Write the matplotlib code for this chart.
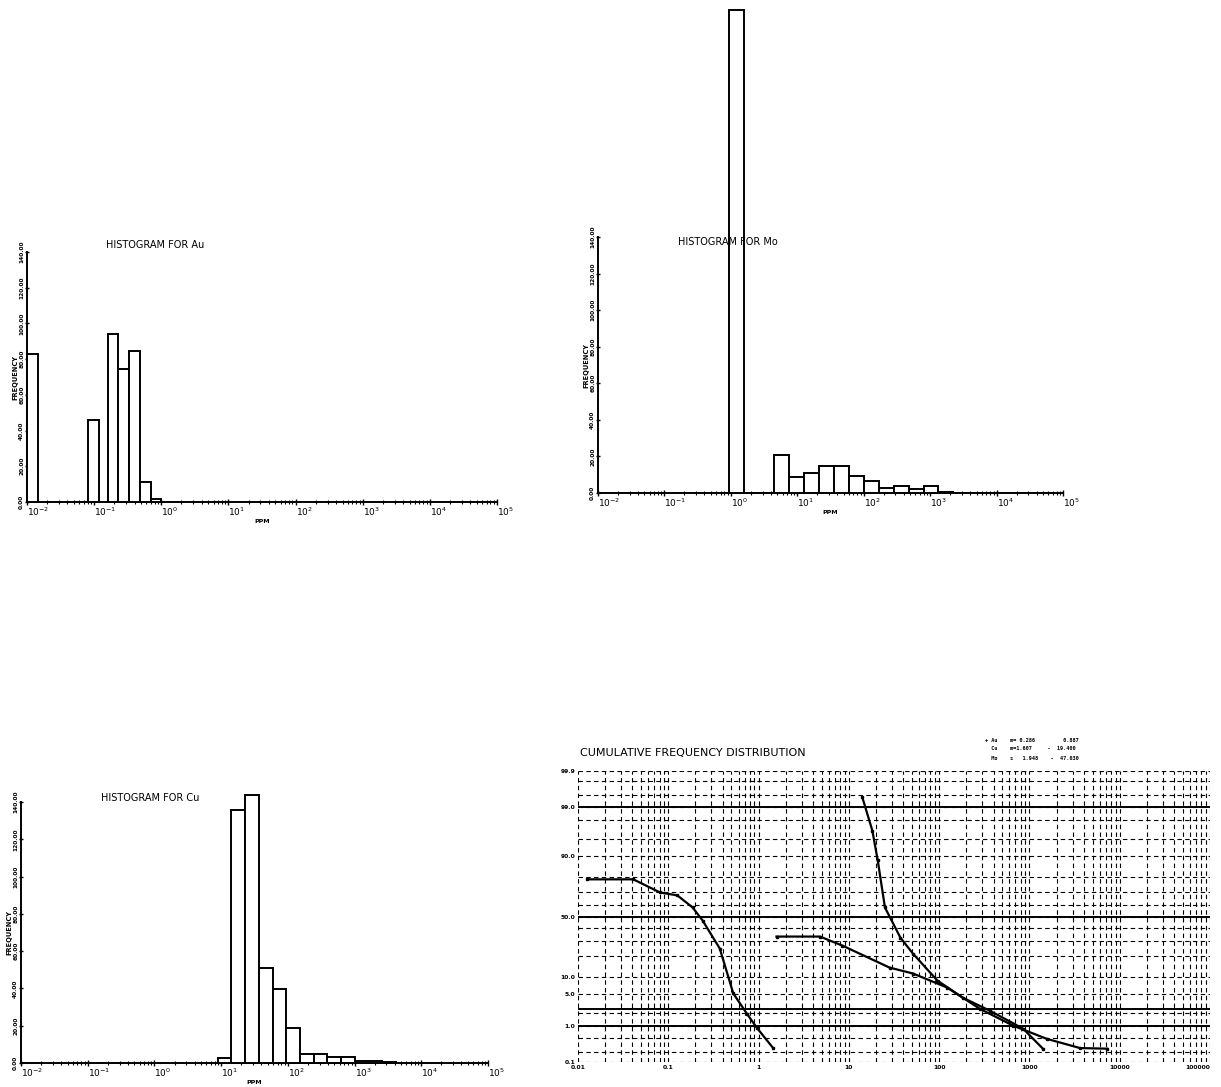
import numpy as np
import matplotlib
matplotlib.use("Agg")
import matplotlib.pyplot as plt
from matplotlib.ticker import FixedLocator, NullFormatter
from statistics import NormalDist

# ---- histogram data (bin left edge / width in log10 ppm, frequency) ----
au_lo = [-2.00, -1.085, -0.80, -0.64, -0.48, -0.32, -0.16]
au_w = 0.16
au_freq = [83, 46, 94, 74.5, 84.5, 11, 1.5]

mo_lo = [-0.025, 0.200, 0.425, 0.650, 0.875, 1.100, 1.325, 1.550, 1.775,
         2.000, 2.225, 2.450, 2.675, 2.900, 3.125]
mo_w = 0.225
mo_freq = [264, 0, 0, 20.9, 8.7, 10.9, 14.5, 14.5, 9.5, 6.4, 2.7, 3.6, 2.2, 3.6, 0.5]

cu_lo = [0.950, 1.155, 1.360, 1.565, 1.770, 1.975, 2.180, 2.385, 2.590, 2.795,
         3.000, 3.205, 3.410]
cu_w = 0.205
cu_freq = [2.7, 135.7, 144, 51, 39.6, 18.75, 4.8, 4.8, 3.2, 3.2, 1.0, 1.0, 0.5]

freq_ticks = [0, 20, 40, 60, 80, 100, 120, 140]
decades = [1e-2, 1e-1, 1e0, 1e1, 1e2, 1e3, 1e4, 1e5]
decade_labels = [r"$10^{-2}$", r"$10^{-1}$", r"$10^{0}$", r"$10^{1}$",
                 r"$10^{2}$", r"$10^{3}$", r"$10^{4}$", r"$10^{5}$"]
cum_x_labels = ["0.01", "0.1", "1", "10", "100", "1000", "10000", "100000"]

# ---- cumulative curves (ppm, percent) ----
au_ppm = [0.0126, 0.041, 0.081, 0.126, 0.186, 0.240, 0.372, 0.525, 0.741, 0.955, 1.45]
au_pct = [78.5, 78.5, 69.5, 67.3, 57.6, 46.6, 24.8, 5.1, 1.96, 0.91, 0.26]

mo_ppm = [1.58, 4.79, 8.5, 28.2, 51.3, 123, 282, 661, 1550, 3630, 7240]
mo_pct = [33.5, 33.5, 26.8, 13.9, 11.3, 6.55, 2.5, 1.02, 0.47, 0.26, 0.25]

cu_ppm = [14.1, 18.2, 20.9, 25.1, 37.2, 51.3, 95.5, 182, 363, 851, 1410]
cu_pct = [99.43, 96.6, 88.3, 57.6, 32.7, 21.5, 8.7, 4.24, 2.28, 0.86, 0.25]

prob_major = [0.1, 1, 5, 10, 50, 90, 99, 99.9]
prob_minor = [0.2, 0.5, 2, 20, 30, 40, 60, 70, 80, 95, 98, 99.5, 99.8]
legend_lines = ["+ Au    m= 0.286         0.887",
                "  Cu    m=1.607     -  19.400",
                "  Mo    s   1.948    -  47.030"]

W, H = 1221, 1087
fig = plt.figure(figsize=(W / 100, H / 100), dpi=100)
fig.patch.set_facecolor("white")

minor_x = [m * d for d in decades[:-1] for m in range(2, 10)]


def px_axes(left, top, right, bottom):
    return fig.add_axes([left / W, 1 - bottom / H, (right - left) / W, (bottom - top) / H])


def histogram(ax, lo, w, freq, name, title_xy):
    lo = np.array(lo)
    left = 10 ** lo
    width = 10 ** (lo + w) - left
    ax.bar(left, freq, width=width, align="edge", facecolor="white",
           edgecolor="black", linewidth=1.4, clip_on=False, zorder=3)
    ax.set_xscale("log")
    ax.set_xlim(1e-2, 1e5)
    ax.set_ylim(0, 140)
    ax.set_yticks(freq_ticks)
    ax.set_yticklabels(["%.2f" % v for v in freq_ticks], rotation=90,
                       fontsize=4.2, fontweight="bold", va="center")
    ax.xaxis.set_major_locator(FixedLocator(decades))
    ax.xaxis.set_minor_locator(FixedLocator(minor_x))
    ax.xaxis.set_minor_formatter(NullFormatter())
    ax.set_xticklabels(decade_labels, ha="left")
    ax.tick_params(axis="x", which="major", labelsize=6.5, length=4, width=1,
                   direction="inout", pad=0.5)
    ax.tick_params(axis="x", which="minor", length=2.5, width=0.8, direction="inout")
    ax.tick_params(axis="y", length=3, width=1, direction="inout", pad=0.5)
    for s in ("top", "right"):
        ax.spines[s].set_visible(False)
    ax.spines["left"].set_linewidth(1.4)
    ax.spines["bottom"].set_linewidth(1.4)
    ax.set_ylabel("FREQUENCY", fontsize=4.8, fontweight="bold", labelpad=0.5)
    ax.set_xlabel("PPM", fontsize=4.5, fontweight="bold", labelpad=1)
    fig.text(title_xy[0] / W, 1 - title_xy[1] / H, "HISTOGRAM FOR " + name,
             fontsize=7, ha="left", va="center")


ax_au = px_axes(27, 252, 497, 502)
histogram(ax_au, au_lo, au_w, au_freq, "Au", (106, 245))

ax_mo = px_axes(598, 237, 1063, 493)
histogram(ax_mo, mo_lo, mo_w, mo_freq, "Mo", (678, 242))

ax_cu = px_axes(21, 802, 488, 1063)
histogram(ax_cu, cu_lo, cu_w, cu_freq, "Cu", (101, 798))

# ---- cumulative frequency on log-probability paper ----
nd = NormalDist()


def p_fwd(p):
    p = np.clip(np.asarray(p, dtype=float) / 100.0, 1e-7, 1 - 1e-7)
    return np.array([nd.inv_cdf(v) for v in p.ravel()]).reshape(p.shape)


def p_inv(z):
    z = np.asarray(z, dtype=float)
    return np.array([nd.cdf(v) for v in z.ravel()]).reshape(z.shape) * 100.0


ax_c = px_axes(578, 771, 1210, 1062)
ax_c.set_xscale("log")
ax_c.set_yscale("function", functions=(p_fwd, p_inv))
ax_c.set_xlim(1e-2, 1e5)
ax_c.set_ylim(0.1, 99.9)
ax_c.yaxis.set_major_locator(FixedLocator(prob_major))
ax_c.yaxis.set_minor_locator(FixedLocator(prob_minor))
ax_c.yaxis.set_minor_formatter(NullFormatter())
ax_c.set_yticklabels(["%.1f" % v for v in prob_major], fontweight="bold")
ax_c.xaxis.set_major_locator(FixedLocator(decades))
ax_c.xaxis.set_minor_locator(FixedLocator(minor_x))
ax_c.xaxis.set_minor_formatter(NullFormatter())
ax_c.set_xticklabels(cum_x_labels, fontweight="bold")
ax_c.get_xticklabels()[-1].set_horizontalalignment("right")
ax_c.tick_params(axis="both", which="both", length=0, labelsize=4.3, pad=2)
ax_c.grid(which="both", color="black", linestyle=(0, (4, 3)), linewidth=0.8)
for s in ax_c.spines.values():
    s.set_visible(False)
for lvl in (50, 99, 1, 2.5):
    ax_c.axhline(lvl, color="black", linewidth=1.4, zorder=2)

for xs, ys in ((au_ppm, au_pct), (mo_ppm, mo_pct), (cu_ppm, cu_pct)):
    ax_c.plot(xs, ys, color="black", linewidth=1.6, marker="s", markersize=2, zorder=4)

fig.text(580 / W, 1 - 753 / H, "CUMULATIVE FREQUENCY DISTRIBUTION",
         fontsize=8, ha="left", va="center")
for i, line in enumerate(legend_lines):
    fig.text(985 / W, 1 - (740 + 9 * i) / H, line, fontsize=3.8,
             fontweight="bold", ha="left", va="center", family="DejaVu Sans Mono")

fig.savefig("out.png", dpi=100, facecolor="white")
